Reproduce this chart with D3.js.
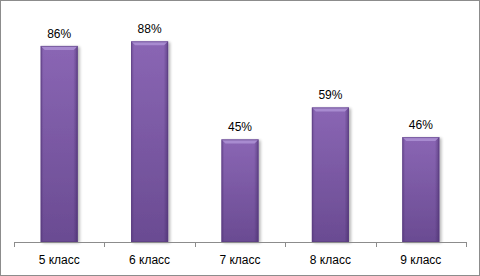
<!DOCTYPE html>
<html>
<head>
<meta charset="utf-8">
<script src="https://cdn.jsdelivr.net/npm/d3@7"></script>
<style>
  html, body { margin: 0; padding: 0; background: #fff; }
  svg { display: block; }
  text { font-family: "Liberation Sans", Arial, sans-serif; font-size: 12px; fill: #000; }
</style>
</head>
<body>
<div id="chart"></div>
<script>
const categories = ["5 класс", "6 класс", "7 класс", "8 класс", "9 класс"];
const values = [0.86, 0.88, 0.45, 0.59, 0.46];

const W = 480, H = 276;
const margin = { top: 14, right: 14, bottom: 34, left: 14 };
const width = W - margin.left - margin.right;
const height = H - margin.top - margin.bottom;

const svg = d3.select("#chart").append("svg")
  .attr("width", W)
  .attr("height", H);

// outer frame
svg.append("rect")
  .attr("x", 0.5).attr("y", 0.5)
  .attr("width", W - 1).attr("height", H - 1)
  .attr("fill", "#fff")
  .attr("stroke", "#8c8c8c");

const defs = svg.append("defs");
const grad = defs.append("linearGradient")
  .attr("id", "barGrad")
  .attr("x1", 0).attr("y1", 0).attr("x2", 0).attr("y2", 1);
grad.append("stop").attr("offset", "0%").attr("stop-color", "#8a66b4");
grad.append("stop").attr("offset", "100%").attr("stop-color", "#6a4b92");

// darker side edges for the bevel look
const side = defs.append("linearGradient")
  .attr("id", "sideGrad")
  .attr("x1", 0).attr("y1", 0).attr("x2", 1).attr("y2", 0);
side.append("stop").attr("offset", "0%").attr("stop-color", "#3d2460").attr("stop-opacity", 0.35);
side.append("stop").attr("offset", "8%").attr("stop-color", "#3d2460").attr("stop-opacity", 0);
side.append("stop").attr("offset", "88%").attr("stop-color", "#3d2460").attr("stop-opacity", 0);
side.append("stop").attr("offset", "100%").attr("stop-color", "#3d2460").attr("stop-opacity", 0.5);

const shadow = defs.append("filter").attr("id", "shadow")
  .attr("x", "-20%").attr("y", "-10%").attr("width", "150%").attr("height", "120%");
shadow.append("feGaussianBlur").attr("in", "SourceAlpha").attr("stdDeviation", 1.5);
shadow.append("feOffset").attr("dx", 2).attr("dy", 1).attr("result", "b");
shadow.append("feComponentTransfer").append("feFuncA").attr("type", "linear").attr("slope", 0.3);
const merge = shadow.append("feMerge");
merge.append("feMergeNode");
merge.append("feMergeNode").attr("in", "SourceGraphic");

const g = svg.append("g")
  .attr("transform", `translate(${margin.left},${margin.top})`);

const x = d3.scaleBand()
  .domain(categories)
  .range([0, width])
  .paddingInner(0.59)
  .paddingOuter(0.295);

const y = d3.scaleLinear()
  .domain([0, 1])
  .range([height, 0]);

const data = categories.map((c, i) => ({ cat: c, value: values[i] }));

const bars = g.selectAll(".bar")
  .data(data)
  .enter()
  .append("g")
  .attr("class", "bar");

bars.append("rect")
  .attr("x", d => x(d.cat))
  .attr("y", d => y(d.value))
  .attr("width", x.bandwidth())
  .attr("height", d => height - y(d.value))
  .attr("fill", "url(#barGrad)")
  .attr("filter", "url(#shadow)");

bars.append("rect")
  .attr("x", d => x(d.cat))
  .attr("y", d => y(d.value))
  .attr("width", x.bandwidth())
  .attr("height", d => height - y(d.value))
  .attr("fill", "url(#sideGrad)");

// top bevel
bars.append("path")
  .attr("d", d => {
    const x0 = x(d.cat), x1 = x0 + x.bandwidth(), t = y(d.value), b = 4;
    return `M${x0},${t}L${x1},${t}L${x1 - b},${t + b}L${x0 + b},${t + b}Z`;
  })
  .attr("fill", "#a88bd0");

bars.append("rect")
  .attr("x", d => x(d.cat) + 0.5)
  .attr("y", d => y(d.value) + 0.5)
  .attr("width", x.bandwidth() - 1)
  .attr("height", d => height - y(d.value) - 1)
  .attr("fill", "none")
  .attr("stroke", "#5a3d80")
  .attr("stroke-opacity", 0.6);

bars.append("text")
  .attr("x", d => x(d.cat) + x.bandwidth() / 2)
  .attr("y", d => y(d.value) - 8)
  .attr("text-anchor", "middle")
  .text(d => d3.format(".0%")(d.value));

// x axis with ticks between categories
const axis = g.append("g")
  .attr("transform", `translate(0,${height})`);

axis.append("line")
  .attr("x1", 0).attr("x2", width)
  .attr("y1", 0.5).attr("y2", 0.5)
  .attr("stroke", "#8c8c8c");

axis.selectAll(".tick")
  .data(d3.range(categories.length + 1))
  .enter()
  .append("line")
  .attr("x1", i => Math.round(i * x.step()) + 0.5)
  .attr("x2", i => Math.round(i * x.step()) + 0.5)
  .attr("y1", 0)
  .attr("y2", 5)
  .attr("stroke", "#8c8c8c");

axis.selectAll(".label")
  .data(categories)
  .enter()
  .append("text")
  .attr("x", d => x(d) + x.bandwidth() / 2)
  .attr("y", 22)
  .attr("text-anchor", "middle")
  .text(d => d);
</script>
</body>
</html>
